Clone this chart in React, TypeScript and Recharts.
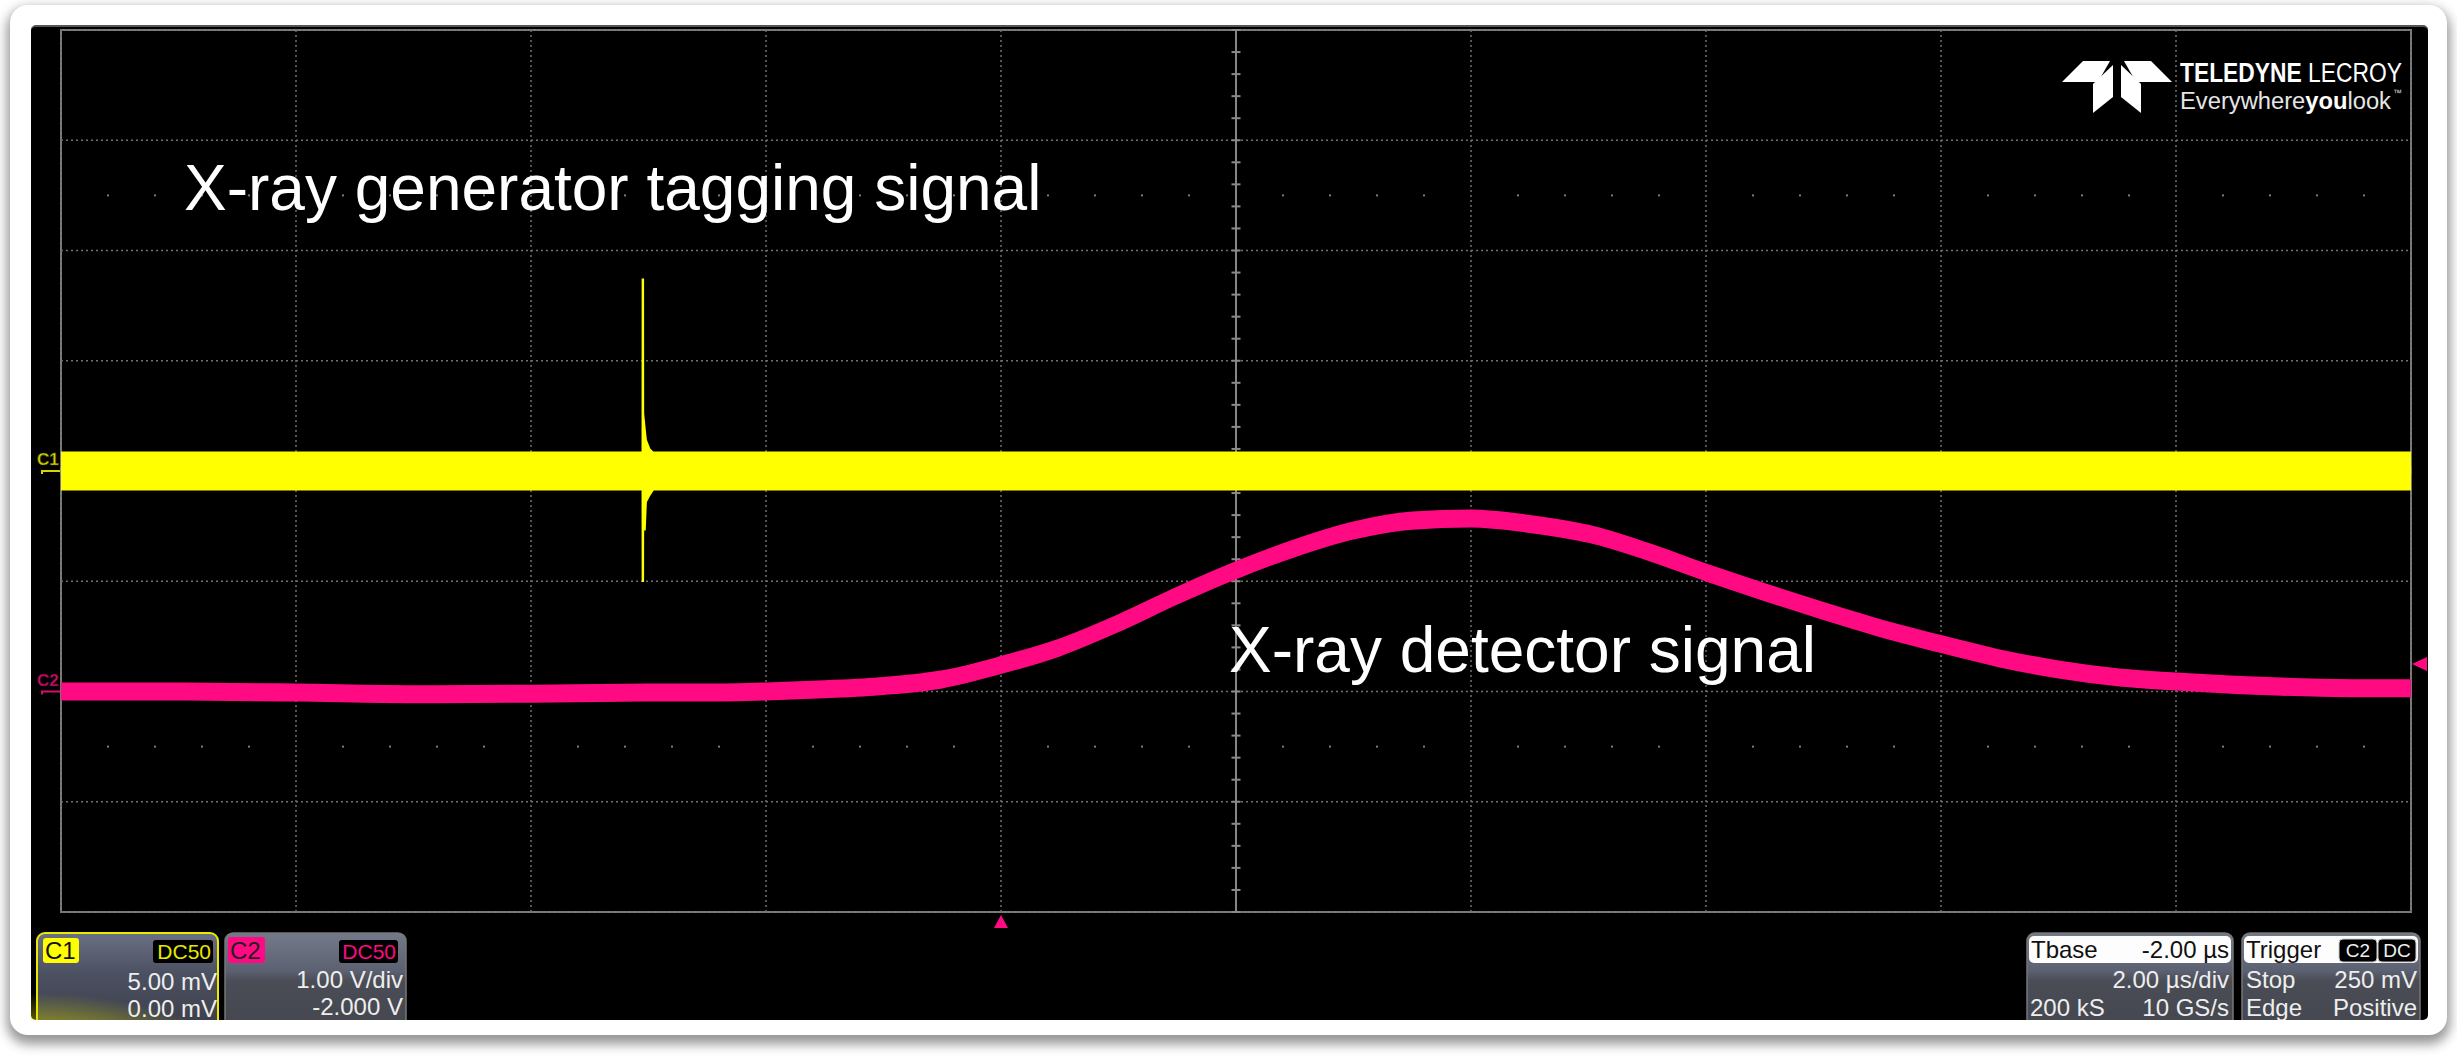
import React from 'react';
import { ComposedChart, Area, XAxis, YAxis, ReferenceLine, ReferenceArea, ReferenceDot } from 'recharts';

// time in µs relative to the trigger, 2 µs/div
const timeGrid = [-8, -6, -4, -2, 0, 2, 4, 6, 8, 10, 12];
// C2 volts, 1 V/div, offset -2.000 V
const voltGrid = [-2, -1, 0, 1, 2, 3, 4, 5, 6];
const timeCenter = 2;
const voltCenter = 2;
const dotRows = [-0.5, 4.5];

// C1: X-ray generator tagging signal (mV), noise band low/high
const c1Time = [-8, -3.06, -3.053, -3.052, -3.044, -3.043, -3.03, -3.02, -2.99, -2.96, 12];
const c1Low = [-0.85, -0.85, -0.85, -5.0, -5.0, -1.5, -2.7, -1.4, -1.1, -0.85, -0.85];
const c1High = [0.85, 0.85, 0.85, 8.7, 8.7, 2.6, 1.9, 1.4, 1.0, 0.85, 0.85];

// C2: X-ray detector signal (V)
const c2Time = [-8, -7, -6, -5, -4, -3, -2.5, -2, -1.5, -1, -0.5, 0, 0.5, 1, 1.5, 2, 2.5, 3, 3.5, 4, 4.5, 5,
  5.5, 6, 6.5, 7, 7.5, 8, 8.5, 9, 9.5, 10, 10.5, 11, 11.5, 12];
const c2Volts = [0.0, 0.0, -0.01, -0.025, -0.02, -0.01, -0.01, 0.0, 0.02, 0.05, 0.11, 0.24, 0.4, 0.62, 0.87, 1.1,
  1.3, 1.46, 1.55, 1.57, 1.52, 1.43, 1.27, 1.08, 0.9, 0.73, 0.57, 0.43, 0.3, 0.2, 0.13, 0.09, 0.06, 0.04, 0.03, 0.03];
const c2Noise = 0.075;

const triggerTime = 0;
const triggerLevel = 0.25;

const YELLOW = '#ffff00';
const PINK = '#ff0a82';
const GRID = '#707070';
const FONT = '"Liberation Sans", Arial, sans-serif';

const c1Data = c1Time.map((t, i) => ({ t, band: [c1Low[i], c1High[i]] }));
const c2Data = c2Time.map((t, i) => ({ t, band: [c2Volts[i] - c2Noise, c2Volts[i] + c2Noise] }));

const steps = (from: number, to: number, step: number) => {
  const out: number[] = [];
  for (let i = 0; from + i * step <= to + 1e-9; i++) out.push(+(from + i * step).toFixed(3));
  return out;
};
const minorT = steps(-8, 12, 0.4);
const minorV = steps(-2, 6, 0.2);
const rowDotsT = minorT.filter(t => !timeGrid.includes(t));

const hTick = (p: any) => <line x1={p.cx - 4.5} x2={p.cx + 4.5} y1={p.cy} y2={p.cy} stroke="#8a8a8a" strokeWidth={2} />;
const vTick = (p: any) => <line x1={p.cx} x2={p.cx} y1={p.cy - 4.5} y2={p.cy + 4.5} stroke="#8a8a8a" strokeWidth={2} />;
const gridDot = (p: any) => <rect x={p.cx - 1} y={p.cy - 1} width={2} height={2} fill="#7a7a7a" />;

const chanMarker = (label: string, color: string, edge: string) => (p: any) => (
  <g>
    <text x={p.cx - 24} y={p.cy - 6} fontSize={17} fontWeight="bold" fontFamily={FONT} fill={color} stroke={edge} strokeWidth={0.6}>{label}</text>
    <path d={`M${p.cx - 19} ${p.cy + 3} V${p.cy} H${p.cx - 1}`} stroke={color} strokeWidth={2} fill="none" />
  </g>
);
const levelMarker = (p: any) => <polygon points={`${p.cx + 1},${p.cy} ${p.cx + 16},${p.cy - 7} ${p.cx + 16},${p.cy + 7}`} fill={PINK} />;
const timeMarker = (p: any) => <polygon points={`${p.cx},${p.cy + 3} ${p.cx - 7},${p.cy + 16} ${p.cx + 7},${p.cy + 16}`} fill={PINK} />;

const chartProps = { width: 2397, height: 910, margin: { top: 5, right: 17, bottom: 23, left: 30 } };

// graticule: drawn in its own chart underneath so the traces cover it
const Graticule = () => (
  <ComposedChart {...chartProps}>
    <XAxis type="number" dataKey="t" domain={[-8, 12]} hide allowDataOverflow />
    <YAxis yAxisId="c2" type="number" domain={[-2, 6]} hide allowDataOverflow />
    {timeGrid.filter(t => t !== timeCenter).map(t => (
      <ReferenceLine key={'gx' + t} x={t} yAxisId="c2" stroke={GRID} strokeWidth={1.5} strokeDasharray="2 3" />
    ))}
    {voltGrid.filter(v => v !== voltCenter).map(v => (
      <ReferenceLine key={'gy' + v} y={v} yAxisId="c2" stroke={GRID} strokeWidth={1.5} strokeDasharray="2 3" />
    ))}
    {dotRows.map(v => rowDotsT.map(t => (
      <ReferenceDot key={`d${v}_${t}`} x={t} y={v} yAxisId="c2" shape={gridDot} ifOverflow="visible" />
    )))}
    <ReferenceLine x={timeCenter} yAxisId="c2" stroke="#858585" strokeWidth={2} />
    <ReferenceLine y={voltCenter} yAxisId="c2" stroke="#858585" strokeWidth={2} />
    {minorV.map(v => <ReferenceDot key={'mv' + v} x={timeCenter} y={v} yAxisId="c2" shape={hTick} ifOverflow="visible" />)}
    {minorT.map(t => <ReferenceDot key={'mt' + t} x={t} y={voltCenter} yAxisId="c2" shape={vTick} ifOverflow="visible" />)}
    <ReferenceArea x1={-8} x2={12} y1={-2} y2={6} yAxisId="c2" fill="none" stroke="#7c7c7c" strokeWidth={2} ifOverflow="visible" />
  </ComposedChart>
);

const Traces = () => (
  <ComposedChart {...chartProps}>
    <XAxis type="number" dataKey="t" domain={[-8, 12]} hide allowDataOverflow />
    <YAxis yAxisId="c1" type="number" domain={[-20, 20]} hide allowDataOverflow />
    <YAxis yAxisId="c2" type="number" domain={[-2, 6]} hide allowDataOverflow />
    <Area yAxisId="c2" data={c2Data} dataKey="band" type="monotone" stroke={PINK} strokeWidth={1.5}
      fill={PINK} fillOpacity={1} dot={false} activeDot={false} isAnimationActive={false} />
    <Area yAxisId="c1" data={c1Data} dataKey="band" type="linear" stroke={YELLOW} strokeWidth={1.5}
      fill={YELLOW} fillOpacity={1} dot={false} activeDot={false} isAnimationActive={false} />
    <ReferenceDot x={-8} y={0} yAxisId="c1" shape={chanMarker('C1', '#d6d600', '#4a4a00')} ifOverflow="visible" />
    <ReferenceDot x={-8} y={0} yAxisId="c2" shape={chanMarker('C2', '#d0106e', '#4a0020')} ifOverflow="visible" />
    <ReferenceDot x={12} y={triggerLevel} yAxisId="c2" shape={levelMarker} ifOverflow="visible" />
    <ReferenceDot x={triggerTime} y={-2} yAxisId="c2" shape={timeMarker} ifOverflow="visible" />
  </ComposedChart>
);

const txt = { fontFamily: FONT, fontSize: 24 } as const;

const Overlay = () => (
  <svg width={2457} height={1058} style={{ position: 'absolute', left: 0, top: 0, pointerEvents: 'none' }}>
    <defs>
      <clipPath id="panel"><rect x={31} y={25} width={2397} height={995} /></clipPath>
      <linearGradient id="slate" x1="0" y1="0" x2="0" y2="1">
        <stop offset="0" stopColor="#747a8a" />
        <stop offset="0.38" stopColor="#5c6171" />
        <stop offset="0.48" stopColor="#4a4d56" />
        <stop offset="1" stopColor="#43464d" />
      </linearGradient>
      <linearGradient id="slateC1" x1="0" y1="0" x2="0" y2="1">
        <stop offset="0" stopColor="#6a7084" />
        <stop offset="0.4" stopColor="#4c5162" />
        <stop offset="1" stopColor="#3a3c46" />
      </linearGradient>
      <radialGradient id="glow" cx="0.3" cy="1" r="0.75">
        <stop offset="0" stopColor="#ffff00" stopOpacity="1" />
        <stop offset="0.45" stopColor="#e0e000" stopOpacity="0.8" />
        <stop offset="1" stopColor="#e0e000" stopOpacity="0" />
      </radialGradient>
    </defs>

    <text x={184} y={210} fontFamily={FONT} fontSize={64} fill="#fff">X-ray generator tagging signal</text>
    <text x={1229} y={672} fontFamily={FONT} fontSize={64} fill="#fff">X-ray detector signal</text>

    {/* logo */}
    <g fill="#fff">
      <polygon points="2062,82 2083,61 2110,61 2098,82" />
      <polygon points="2172,82 2151,61 2124,61 2136,82" />
      <polygon points="2093,84 2113,65 2113,97 2093,113" />
      <polygon points="2141,84 2121,65 2121,97 2141,113" />
    </g>
    <text x={2180} y={82} fontFamily={FONT} fontSize={27} fill="#fff" textLength={222} lengthAdjust="spacingAndGlyphs">
      <tspan fontWeight="bold">TELEDYNE</tspan> LECROY
    </text>
    <text x={2180} y={109} fontFamily={FONT} fontSize={23} fill="#e6e6e6" textLength={211} lengthAdjust="spacingAndGlyphs">
      Everywhere<tspan fontWeight="bold" fill="#fff">you</tspan>look
    </text>
    <text x={2393} y={96} fontFamily={FONT} fontSize={9} fill="#ddd">™</text>

    <g clipPath="url(#panel)">
      {/* C1 */}
      <rect x={37} y={933} width={181} height={100} rx={8} fill="url(#slateC1)" stroke="#eaea00" strokeWidth={2} />
      <ellipse cx={90} cy={1026} rx={160} ry={66} fill="url(#glow)" />
      <rect x={43} y={938} width={36} height={25} rx={3} fill={YELLOW} />
      <text x={45} y={959} {...txt} fill="#111">C1</text>
      <rect x={153} y={940} width={60} height={23} rx={3} fill="#000" />
      <text x={211} y={959} fontFamily={FONT} fontSize={21} fill="#e8e800" textAnchor="end">DC50</text>
      <text x={217} y={990} {...txt} fill="#eeeeee" textAnchor="end">5.00 mV</text>
      <text x={217} y={1017} {...txt} fill="#eeeeee" textAnchor="end">0.00 mV</text>

      {/* C2 */}
      <rect x={225} y={933} width={181} height={100} rx={8} fill="url(#slate)" stroke="#777" strokeWidth={1.5} />
      <rect x={228} y={937} width={37} height={26} rx={3} fill={PINK} />
      <text x={230} y={959} {...txt} fill="#222">C2</text>
      <rect x={339} y={940} width={59} height={23} rx={3} fill="#000" />
      <text x={396} y={959} fontFamily={FONT} fontSize={21} fill={PINK} textAnchor="end">DC50</text>
      <text x={403} y={988} {...txt} fill="#eeeeee" textAnchor="end">1.00 V/div</text>
      <text x={403} y={1015} {...txt} fill="#eeeeee" textAnchor="end">-2.000 V</text>

      {/* Timebase */}
      <rect x={2027} y={933} width={206} height={100} rx={8} fill="url(#slate)" stroke="#777" strokeWidth={1.5} />
      <rect x={2029} y={936} width={202} height={27} rx={5} fill="#fdfdfd" />
      <text x={2031} y={958} {...txt} fill="#111">Tbase</text>
      <text x={2229} y={958} {...txt} fill="#111" textAnchor="end">-2.00 µs</text>
      <text x={2229} y={988} {...txt} fill="#eeeeee" textAnchor="end">2.00 µs/div</text>
      <text x={2030} y={1016} {...txt} fill="#eeeeee">200 kS</text>
      <text x={2229} y={1016} {...txt} fill="#eeeeee" textAnchor="end">10 GS/s</text>

      {/* Trigger */}
      <rect x={2242} y={933} width={178} height={100} rx={8} fill="url(#slate)" stroke="#777" strokeWidth={1.5} />
      <rect x={2244} y={936} width={174} height={27} rx={5} fill="#fdfdfd" />
      <text x={2246} y={958} {...txt} fill="#111">Trigger</text>
      <rect x={2339} y={939} width={38} height={23} rx={4} fill="#000" stroke="#ccc" strokeWidth={1} />
      <text x={2358} y={957} fontFamily={FONT} fontSize={19} fill="#eee" textAnchor="middle">C2</text>
      <rect x={2378} y={939} width={38} height={23} rx={4} fill="#000" stroke="#ccc" strokeWidth={1} />
      <text x={2397} y={957} fontFamily={FONT} fontSize={19} fill="#eee" textAnchor="middle">DC</text>
      <text x={2246} y={988} {...txt} fill="#eeeeee">Stop</text>
      <text x={2417} y={988} {...txt} fill="#eeeeee" textAnchor="end">250 mV</text>
      <text x={2246} y={1016} {...txt} fill="#eeeeee">Edge</text>
      <text x={2417} y={1016} {...txt} fill="#eeeeee" textAnchor="end">Positive</text>
    </g>
  </svg>
);

export default function App() {
  return (
    <div style={{ position: 'absolute', left: 0, top: 0, width: 2457, height: 1058, overflow: 'hidden', background: '#fff' }}>
      <div style={{ position: 'absolute', left: 10, top: 5, width: 2437, height: 1030, background: '#fff', borderRadius: 18, boxShadow: '0 6px 12px 3px rgba(0,0,0,0.42)' }} />
      <div style={{ position: 'absolute', left: 31, top: 25, width: 2397, height: 995, background: '#000', borderRadius: 5, borderTop: '2px solid #555', boxSizing: 'border-box' }} />
      <div style={{ position: 'absolute', left: 31, top: 25 }}>
        <Graticule />
      </div>
      <div style={{ position: 'absolute', left: 31, top: 25 }}>
        <Traces />
      </div>
      <Overlay />
    </div>
  );
}
